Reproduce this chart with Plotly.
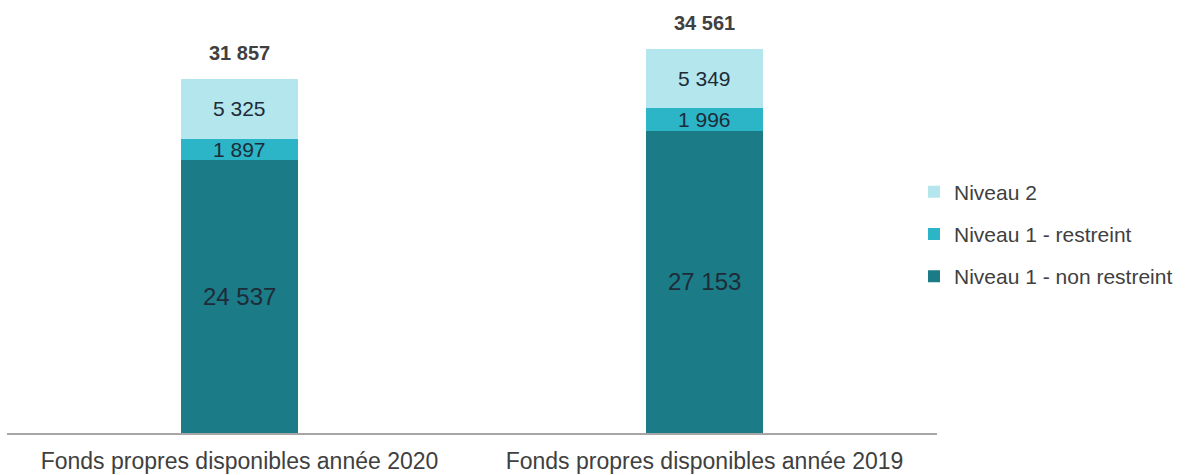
import plotly.graph_objects as go

# Data
categories = ["Fonds propres disponibles année 2020", "Fonds propres disponibles année 2019"]
niveau1_non_restreint = [24537, 27153]
niveau1_restreint = [1897, 1996]
niveau2 = [5325, 5349]
totals = [31857, 34561]

# (name, values, colour, label size, legend rank)
series = [
    ("Niveau 1 - non restreint", niveau1_non_restreint, "#1b7b86", 24, 3),
    ("Niveau 1 - restreint", niveau1_restreint, "#2bb5c6", 21, 2),
    ("Niveau 2", niveau2, "#b4e6ee", 21, 1),
]

FONT = "Liberation Sans, Arial, sans-serif"


def fmt(v):
    return f"{v:,}".replace(",", " ")


fig = go.Figure()
base = [0] * len(categories)
for i, (name, vals, color, size, rank) in enumerate(series):
    fig.add_trace(go.Bar(
        name=name,
        x=categories,
        y=vals,
        marker=dict(color=color, line=dict(width=0)),
        legendgroup=f"g{i}",
        legendrank=rank,
        hoverinfo="skip",
    ))
    # value label centred in each stacked segment
    for j, (cat, v) in enumerate(zip(categories, vals)):
        fig.add_annotation(
            x=cat, y=base[j] + v / 2, text=fmt(v),
            showarrow=False, yanchor="middle",
            font=dict(family=FONT, size=size, color="#1e2b38"),
        )
        base[j] += v

for cat, tot in zip(categories, totals):
    fig.add_annotation(
        x=cat, y=tot, text=f"<b>{fmt(tot)}</b>",
        showarrow=False, yanchor="bottom", yshift=12,
        font=dict(family=FONT, size=20, color="#404040"),
    )

fig.update_layout(
    width=1187, height=475,
    barmode="stack",
    bargap=0.75,
    plot_bgcolor="white", paper_bgcolor="white",
    margin=dict(l=7, r=250, t=10, b=42, autoexpand=False),
    font=dict(family=FONT, color="#404040"),
    legend=dict(
        xref="container", yref="container",
        x=914 / 1187, y=1 - 234 / 475, xanchor="left", yanchor="middle",
        traceorder="grouped",
        tracegroupgap=12,
        font=dict(family=FONT, size=21, color="#404040"),
        itemwidth=30,
    ),
    showlegend=True,
)
fig.update_xaxes(
    showline=True, linecolor="#a6a6a6", linewidth=2,
    tickfont=dict(family=FONT, size=23, color="#404040"),
    ticks="", ticklabelstandoff=6, automargin=False,
)
fig.update_yaxes(visible=False, range=[0, 37970], showgrid=False, zeroline=False)

fig.write_html("out.html")
